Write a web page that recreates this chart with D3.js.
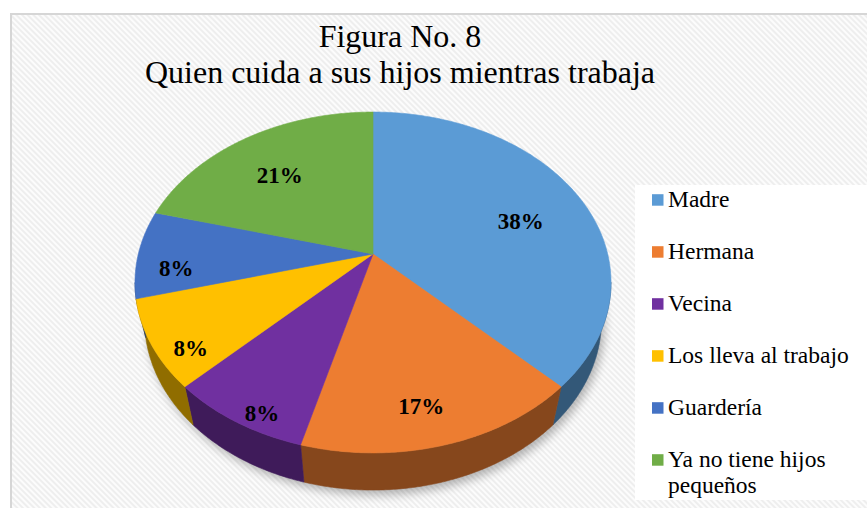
<!DOCTYPE html>
<html><head><meta charset="utf-8">
<script src="https://cdn.jsdelivr.net/npm/d3@7"></script>
<style>body{margin:0;background:#fff} text{font-family:"Liberation Serif","DejaVu Serif","Times New Roman",serif;}</style>
</head><body>
<svg id="c" width="867" height="508"></svg>
<script>
// ---- data ----
const categories = ["Madre","Hermana","Vecina","Los lleva al trabajo","Guardería","Ya no tiene hijos pequeños"];
const counts = [9,4,2,2,2,5];
const colors = ["#5B9BD5","#ED7D31","#7030A0","#FFC000","#4472C4","#70AD47"];
const titleLines = ["Figura No. 8","Quien cuida a sus hijos mientras trabaja"];
const legendLines = [["Madre"],["Hermana"],["Vecina"],["Los lleva al trabajo"],["Guardería"],["Ya no tiene hijos","pequeños"]];

const W = 867, H = 508;
const svg = d3.select("#c");

// background pattern
const defs = svg.append("defs");
const pat = defs.append("pattern").attr("id","stripes").attr("patternUnits","userSpaceOnUse")
  .attr("width",4).attr("height",4).attr("patternTransform","rotate(-45)");
pat.append("rect").attr("width",4).attr("height",4).attr("fill","#fcfcfc");
pat.append("rect").attr("width",2).attr("height",4).attr("fill","#eeeeee");
const blur = defs.append("filter").attr("id","blur").attr("x","-20%").attr("y","-20%").attr("width","140%").attr("height","140%");
blur.append("feGaussianBlur").attr("stdDeviation",5);

svg.append("rect").attr("width",W).attr("height",H).attr("fill","#fff");
svg.append("rect").attr("x",11).attr("y",14).attr("width",W).attr("height",H)
  .attr("fill","url(#stripes)").attr("stroke","#d6d6d6").attr("stroke-width",2);

// title
svg.append("g").selectAll("text").data(titleLines).join("text")
  .attr("x",400).attr("y",(d,i)=>47+i*36)
  .attr("text-anchor","middle").attr("font-size",32)
  .attr("fill","#000").text(d=>d);

// ---- 3D pie projection ----
const cx = 373, cy = 254, F = 995, Dist = 4.24, ca = 0.708, sa = 0.706, thick = 0.244;
function proj(theta, r, h){
  const u = r*Math.sin(theta), v = -r*Math.cos(theta);
  const X = u, Y = v*sa + h*ca, Z = Dist - v*ca + h*sa;
  return [cx + F*X/Z, cy + F*Y/Z];
}
const arcs = d3.pie().sort(null).value(d=>d)(counts);
const total = d3.sum(counts);
const pct = d3.scaleLinear().domain([0,total]).range([0,100]);

// silhouette angles
let thR = 0, thL = 0, mx = -1e9, mn = 1e9;
for(let t=0;t<2*Math.PI;t+=0.002){
  const p = proj(t,1,0);
  if(p[0]>mx){mx=p[0];thR=t;}
  if(p[0]<mn){mn=p[0];thL=t;}
}
function arcPts(a0,a1,r,h){
  const n = Math.max(2, Math.ceil((a1-a0)/0.01));
  return d3.range(n+1).map(i=>proj(a0+(a1-a0)*i/n,r,h));
}
const line = d3.line();

// shadow
const bottomRing = arcPts(0,2*Math.PI,1.0,thick);
svg.append("path").attr("d",line(bottomRing)+"Z")
  .attr("transform","translate(3,5)").attr("fill","#000").attr("opacity",0.28)
  .attr("filter","url(#blur)");

// sides
const sides = svg.append("g");
arcs.forEach((a,i)=>{
  const a0 = Math.max(a.startAngle, thR), a1 = Math.min(a.endAngle, thL);
  if(a0>=a1) return;
  const pts = arcPts(a0,a1,1,0).concat(arcPts(a0,a1,1,thick).reverse());
  const c = d3.color(colors[i]).darker(1.6);
  sides.append("path").attr("d",line(pts)+"Z").attr("fill",c).attr("stroke",c).attr("stroke-width",0.6);
});

// tops
const tops = svg.append("g");
arcs.forEach((a,i)=>{
  const pts = [proj(0,0,0)].concat(arcPts(a.startAngle,a.endAngle,1,0));
  tops.append("path").attr("d",line(pts)+"Z").attr("fill",colors[i])
    .attr("stroke",colors[i]).attr("stroke-width",0.6).attr("stroke-linejoin","round");
});

// labels
svg.append("g").selectAll("text").data(arcs).join("text")
  .each(function(a){
    const mid = (a.startAngle+a.endAngle)/2;
    const frac = (a.endAngle-a.startAngle)/(2*Math.PI);
    const small = frac < 0.1;
    const front = -Math.cos(mid); // +1 nearest
    const p = proj(mid, small?0.85:0.72, thick*(0.35+0.2*front));
    d3.select(this).attr("x",p[0]).attr("y",p[1]);
  })
  .attr("dy","0.35em").attr("text-anchor","middle")
  .attr("font-weight","bold").attr("font-size",23).attr("fill","#000")
  .text(a=>Math.round(pct(a.value))+"%");

// legend
const lg = svg.append("g");
lg.append("rect").attr("x",635).attr("y",185).attr("width",232).attr("height",315).attr("fill","#fff");
legendLines.forEach((lines,i)=>{
  const by = 206.7 + i*52;
  lg.append("rect").attr("x",652).attr("y",by-12.5).attr("width",11.5).attr("height",11.5).attr("fill",colors[i]);
  lines.forEach((t,j)=>{
    lg.append("text").attr("x",668).attr("y",by+j*26.7)
      .attr("font-size",23.5).attr("fill","#000").text(t);
  });
});
</script>
</body></html>
